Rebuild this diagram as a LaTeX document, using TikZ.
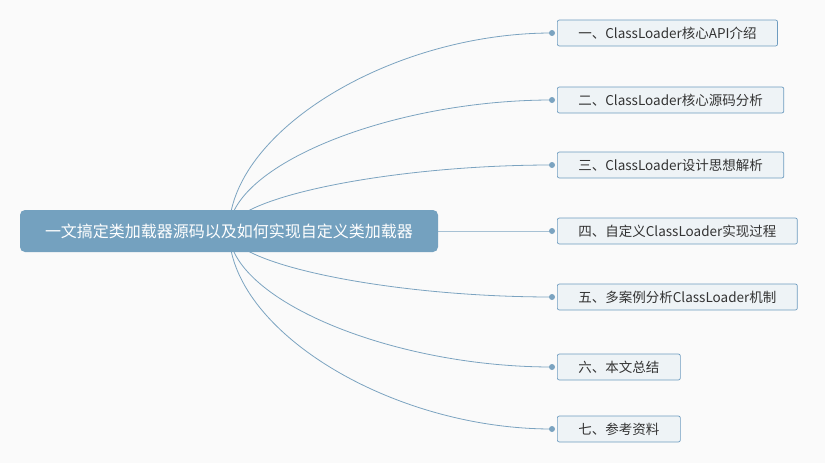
\documentclass[tikz,border=0pt]{standalone}
\usepackage{fontspec}
\setmainfont{Noto Sans CJK SC}
\usetikzlibrary{positioning, calc}
\definecolor{rootblue}{HTML}{74A1BF}
\definecolor{linkblue}{HTML}{7BA3C0}
\definecolor{boxline}{HTML}{6E9CC0}
\definecolor{boxfill}{HTML}{EEF3F6}
\definecolor{bg}{HTML}{FAFAFA}
\begin{document}
\begin{tikzpicture}[x=1pt, y=-1pt,
    topic/.style={draw=boxline, line width=0.7pt, fill=boxfill, rounded corners=2pt, anchor=west,
        minimum height=26pt, inner xsep=21pt, font=\fontsize{13.5}{15}\selectfont, text=black!80},
    dot/.style={circle, fill=linkblue, inner sep=0pt, minimum size=6pt},
    link/.style={draw=linkblue, line width=0.8pt}]
    \fill[bg] (0, 0) rectangle (825, 463);
    \useasboundingbox (0, 0) rectangle (825, 463);

    \coordinate (o) at (229, 231);

    \node[dot] (d1) at (552, 33) {};
    \node[dot] (d2) at (552, 100) {};
    \node[dot] (d3) at (552, 165) {};
    \node[dot] (d4) at (552, 231) {};
    \node[dot] (d5) at (552, 297) {};
    \node[dot] (d6) at (552, 367) {};
    \node[dot] (d7) at (552, 429) {};

    \node[topic] (s1) at (557, 33) {一、ClassLoader核心API介绍};
    \node[topic] (s2) at (557, 100) {二、ClassLoader核心源码分析};
    \node[topic] (s3) at (557, 165) {三、ClassLoader设计思想解析};
    \node[topic] (s4) at (557, 231) {四、自定义ClassLoader实现过程};
    \node[topic] (s5) at (557, 297) {五、多案例分析ClassLoader机制};
    \node[topic] (s6) at (557, 367) {六、本文总结};
    \node[topic] (s7) at (557, 429) {七、参考资料};

    \foreach \i in {1,...,7}
        \draw[link] (o) .. controls ($(o)!0.5!(o |- d\i)$) and ($(o |- d\i)!0.5!(d\i)$) .. (d\i.center);

    \node[fill=rootblue, rounded corners=5pt, text=white, minimum width=418pt,
        minimum height=42pt, font=\fontsize{16}{18}\selectfont] (r) at (o)
        {一文搞定类加载器源码以及如何实现自定义类加载器};
\end{tikzpicture}
\end{document}
